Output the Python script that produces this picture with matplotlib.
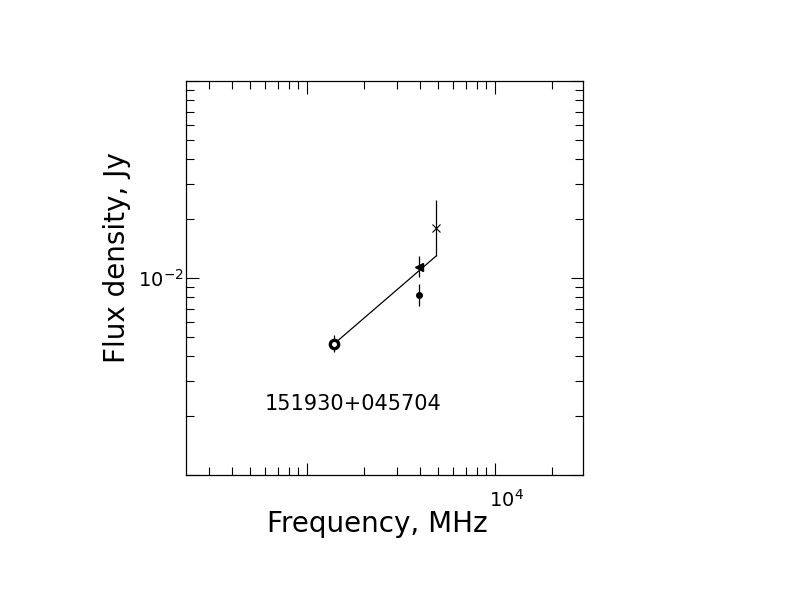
import numpy as np
import matplotlib.pyplot as plt
from matplotlib.transforms import ScaledTranslation

# data (MHz, Jy)
circle_freq = [1400.0]
circle_flux = [4.65e-3]
circle_err_lo = [0.45e-3]
circle_err_hi = [0.47e-3]

tri_freq = [3960.0]
tri_flux = [1.14e-2]
tri_err_lo = [0.13e-2]
tri_err_hi = [0.16e-2]

dot_freq = [3940.0]
dot_flux = [8.2e-3]
dot_err_lo = [0.95e-3]
dot_err_hi = [1.15e-3]

cross_freq = [4850.0]
cross_flux = [1.80e-2]
cross_err_lo = [0.50e-2]
cross_err_hi = [0.68e-2]

fit_freq = [1400.0, 4850.0]
fit_flux = [4.65e-3, 1.29e-2]

source_name = "151930+045704"
x_ticks = [1e3, 1e4]
x_tick_labels = ["", r"$10^{4}$"]
y_ticks = [1e-3, 1e-2, 1e-1]
y_tick_labels = ["", r"$10^{-2}$", ""]

fig = plt.figure(figsize=(7.92, 6.12), dpi=100)
ax = fig.add_axes([186 / 792, 1 - 475 / 612, 397 / 792, 394 / 612])
ax.set_xscale('log')
ax.set_yscale('log')
ax.set_xlim(227, 29400)
ax.set_ylim(1e-3, 1e-1)

ebar = dict(fmt='none', ecolor='black', elinewidth=0.9, capsize=0)
ax.errorbar(circle_freq, circle_flux, yerr=[circle_err_lo, circle_err_hi], **ebar)
ax.errorbar(tri_freq, tri_flux, yerr=[tri_err_lo, tri_err_hi], **ebar)
ax.errorbar(dot_freq, dot_flux, yerr=[dot_err_lo, dot_err_hi], **ebar)
ax.errorbar(cross_freq, cross_flux, yerr=[cross_err_lo, cross_err_hi], **ebar)

ax.plot(fit_freq, fit_flux, color='black', lw=0.9)

ax.plot(circle_freq, circle_flux, 'o', ms=6, mfc='white', mec='black', mew=2.4)
ax.plot(tri_freq, tri_flux, '<', ms=6, color='black')
ax.plot(dot_freq, dot_flux, 'o', ms=4, color='black')
ax.plot(cross_freq, cross_flux, 'x', ms=6, mew=0.8, color='black')

ax.text(0.199, 0.18, source_name, transform=ax.transAxes, fontsize=15,
        ha='left', va='center')

ax.set_xticks(x_ticks)
ax.set_xticklabels(x_tick_labels)
ax.set_yticks(y_ticks)
ax.set_yticklabels(y_tick_labels)
ax.tick_params(which='both', direction='in', top=True, right=True, width=0.8,
               labelsize=14)
ax.tick_params(which='major', length=9)
ax.tick_params(which='minor', length=5.5)
ax.tick_params(axis='x', which='major', pad=10)
ax.tick_params(axis='y', which='major', pad=2)
for lbl in ax.get_xticklabels():
    lbl.set_transform(lbl.get_transform() + ScaledTranslation(8 / 72, 0, fig.dpi_scale_trans))
for s in ax.spines.values():
    s.set_linewidth(0.9)

ax.set_xlabel("Frequency, MHz", fontsize=20)
ax.set_ylabel("Flux density, Jy", fontsize=20)
ax.xaxis.set_label_coords(0.481, -0.124)
ax.yaxis.set_label_coords(-0.174, 0.551)
ax.xaxis.label.set_va('center')
ax.yaxis.label.set_va('center')

fig.savefig("out.png", dpi=100)
